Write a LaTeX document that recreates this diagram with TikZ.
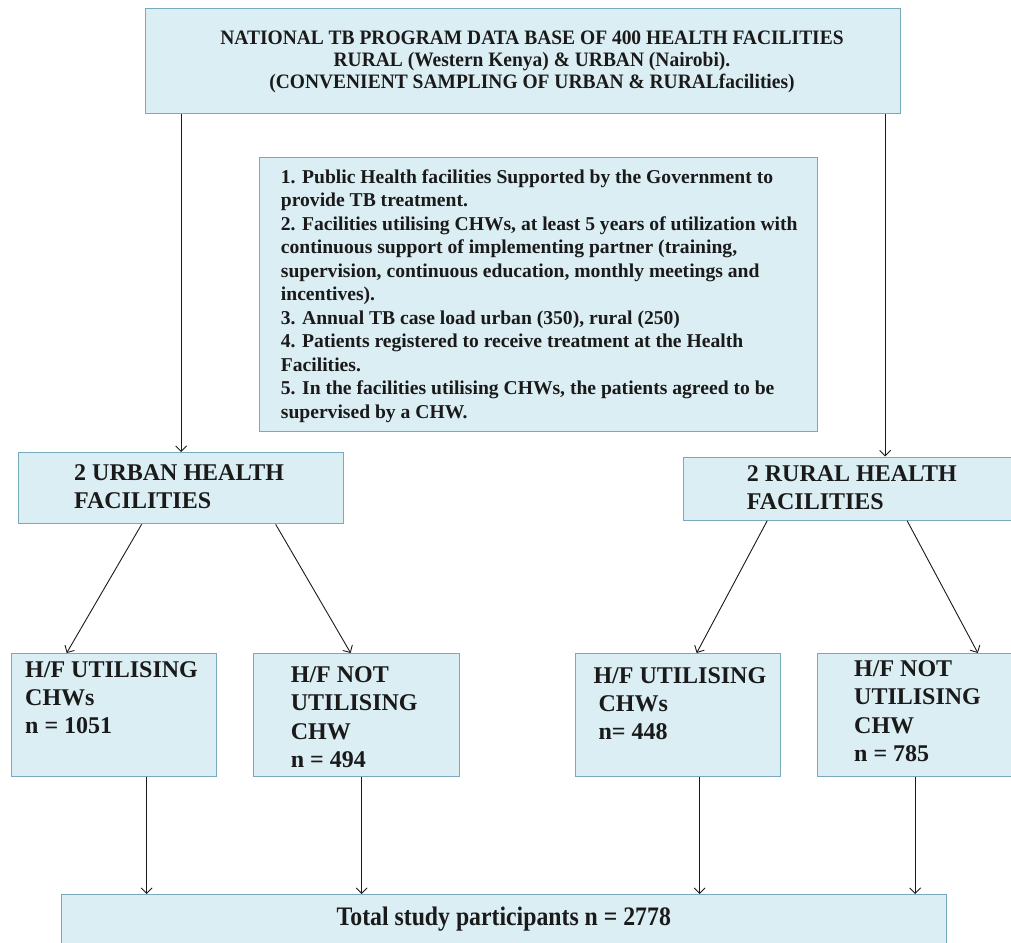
\documentclass[tikz,border=0pt]{standalone}
\usepackage{fontspec}
\setmainfont{Liberation Serif}
\newfontfamily\narrowrm[FakeStretch=0.95]{Liberation Serif}
\newfontfamily\condrm[FakeStretch=0.89]{Liberation Serif}
\usetikzlibrary{arrows.meta}
\definecolor{BoxFill}{HTML}{DBEEF4}
\definecolor{BoxRule}{HTML}{79A9BF}
\definecolor{Ink}{HTML}{1A1A1A}

\begin{document}
\begin{tikzpicture}[x=1pt,y=-1pt,
  box/.style={draw=BoxRule,line width=1.3pt,fill=BoxFill,inner sep=0pt,anchor=north west},
  lbl/.style={anchor=north west,inner sep=0pt,align=left,text=Ink,font=\bfseries\fontsize{24}{28.4}\selectfont},
  crit/.style={lbl,font=\bfseries\fontsize{19.6}{23.5}\selectfont},
  arrow/.style={-{Straight Barb[length=5.5pt,width=11pt]},line width=0.9pt,draw=Ink}
]
\clip (0,0) rectangle (1011,942);

% boxes
\node[box,minimum width=755pt,minimum height=105pt] (db) at (145,8) {};
\node[box,minimum width=558pt,minimum height=274pt] (rules) at (259,157) {};
\node[box,minimum width=325pt,minimum height=71pt] (uhf) at (18,452) {};
\node[box,minimum width=331pt,minimum height=63pt] (rhf) at (683,456.5) {};
\node[box,minimum width=205pt,minimum height=122.5pt] (uchw) at (10.5,653) {};
\node[box,minimum width=206pt,minimum height=123pt] (unochw) at (253,653) {};
\node[box,minimum width=205pt,minimum height=123pt] (rchw) at (575,653) {};
\node[box,minimum width=198pt,minimum height=123pt] (rnochw) at (816.5,653) {};
\node[box,minimum width=885pt,minimum height=60pt] (total) at (61,894) {};

% texts
\node[lbl,anchor=north,align=center,font=\narrowrm\bfseries\fontsize{20.5}{21.7}\selectfont] (db-txt) at (532,31)
  {NATIONAL TB PROGRAM DATA BASE OF 400 HEALTH FACILITIES\\
   RURAL (Western Kenya) \& URBAN (Nairobi).\\
   (CONVENIENT SAMPLING OF URBAN \& RURALfacilities)};
\node[crit] (rules-txt) at (280.7,169)
  {1. Public Health facilities Supported by the Government to\\
   provide TB treatment.\\
   2. Facilities utilising CHWs, at least 5 years of utilization with\\
   continuous support of implementing partner (training,\\
   supervision, continuous education, monthly meetings and\\
   incentives).\\
   3. Annual TB case load urban (350), rural (250)\\
   4. Patients registered to receive treatment at the Health\\
   Facilities.\\
   5. In the facilities utilising CHWs, the patients agreed to be\\
   supervised by a CHW.};
\node[lbl] (uhf-txt) at (74,464.5) {2 URBAN HEALTH\\FACILITIES};
\node[lbl] (rhf-txt) at (746.7,465) {2 RURAL HEALTH\\FACILITIES};
\node[lbl] (uchw-txt) at (25,661) {H/F UTILISING\\CHWs\\n = 1051};
\node[lbl] (unochw-txt) at (290.7,666.3) {H/F NOT\\UTILISING\\CHW\\n = 494};
\node[lbl] (rchw-txt) at (593.3,667) {H/F UTILISING\\\hspace*{5pt}CHWs\\\hspace*{5pt}n= 448};
\node[lbl] (rnochw-txt) at (854,660.3) {H/F NOT\\UTILISING\\CHW\\n = 785};
\node[lbl,anchor=north,font=\condrm\bfseries\fontsize{26.7}{30}\selectfont] (total-txt) at (503.8,907)
  {Total study participants n = 2778};

% connectors
\coordinate (rin) at ([xshift=36pt]rhf.north);
\draw[arrow] (db.south -| uhf.north) -- (uhf.north);
\draw[arrow] (db.south -| rin) -- (rin);
\draw[arrow] ([xshift=-39.5pt]uhf.south) -- ([xshift=-47pt]uchw.north);
\draw[arrow] ([xshift=94.5pt]uhf.south) -- ([xshift=-6pt]unochw.north);
\draw[arrow] ([xshift=-82pt]rhf.south) -- ([xshift=18.5pt]rchw.north);
\draw[arrow] ([xshift=58pt]rhf.south) -- ([xshift=61.7pt]rnochw.north);
\draw[arrow] ([xshift=33pt]uchw.south) -- ([xshift=33pt]uchw.south |- total.north);
\draw[arrow] ([xshift=5pt]unochw.south) -- ([xshift=5pt]unochw.south |- total.north);
\draw[arrow] ([xshift=21.5pt]rchw.south) -- ([xshift=21.5pt]rchw.south |- total.north);
\draw[arrow] ([xshift=-1pt]rnochw.south) -- ([xshift=-1pt]rnochw.south |- total.north);
\end{tikzpicture}
\end{document}
